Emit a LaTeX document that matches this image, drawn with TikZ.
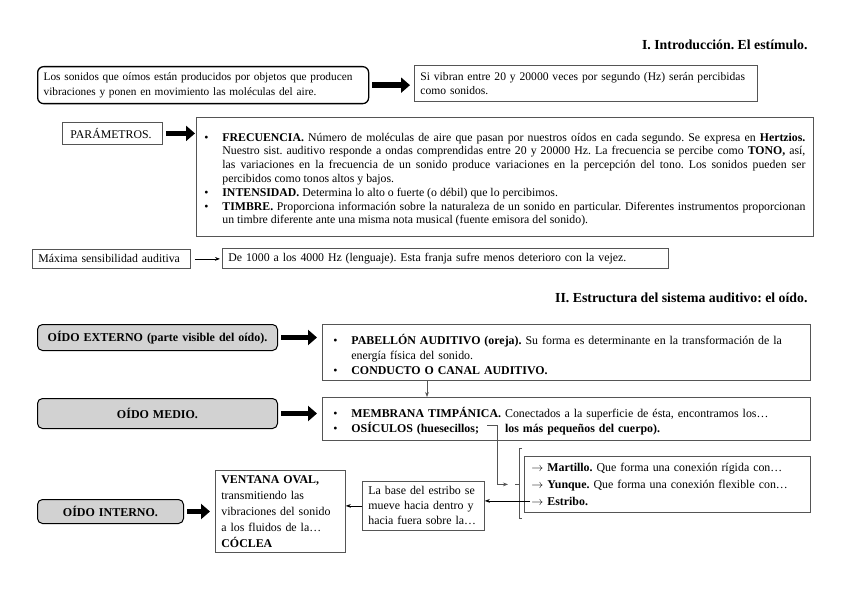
\documentclass[tikz,border=0pt]{standalone}
\usepackage{fontspec}
\setmainfont{Liberation Serif}
\usepackage{tikz}
\usetikzlibrary{arrows.meta, positioning, calc}
\definecolor{linegray}{HTML}{555555}
\definecolor{earfill}{HTML}{D2D2D2}
\frenchspacing
\newcommand{\itm}{\par\noindent\hangindent=18pt\hangafter=1\makebox[18pt][l]{\textbullet}}
\newcommand{\fs}[2]{\fontsize{#1}{#2}\selectfont}

\begin{document}
\begin{tikzpicture}[x=1pt, y=-1pt,
  box/.style={rectangle, draw=linegray, line width=0.8pt, anchor=north west,
              inner xsep=6pt, inner ysep=2pt, align=left, font=\fs{11.8}{14}},
  roundbox/.style={box, rounded corners=6pt, draw=black, line width=1.3pt},
  earbox/.style={box, rounded corners=5pt, draw=black, line width=1pt,
                 fill=earfill, align=center, font=\fs{12}{13}\bfseries},
  bigarrow/.style={-{Triangle[length=9pt,width=15pt]}, line width=5.5pt,
                   shorten <=3pt, shorten >=4pt},
  thinarrow/.style={-{Stealth[length=5pt]}, line width=0.7pt},
  title/.style={anchor=base east, font=\fs{13.8}{16}\bfseries},
]
  \useasboundingbox (0,0) rectangle (848,599);

  \node[title] (tintro) at (811,50) {I. Introducción. El estímulo.};
  \node[roundbox, text width=319pt, minimum height=37pt, font=\fs{11.3}{14.5}] (src) at (37,66)
    {Los sonidos que oímos están producidos por objetos que producen\\
     vibraciones y ponen en movimiento las moléculas del aire.};
  \node[box, text width=331pt, minimum height=36pt, font=\fs{11.6}{14}] (vib) at (414,65)
    {Si vibran entre 20 y 20000 veces por segundo (Hz) serán percibidas\\
     como sonidos.};
  \node[box, inner xsep=8pt, text width=84pt, minimum height=22pt] (par) at (62,122)
    {PARÁMETROS.};
  \node[box, inner xsep=8pt, text width=601pt, minimum height=119pt, align=justify,
        font=\fs{11.8}{13.8}] (freq) at (196,117)
    {\itm\textbf{FRECUENCIA.} Número de moléculas de aire que pasan por nuestros oídos en cada segundo. Se expresa en \textbf{Hertzios.}\linebreak
     Nuestro sist. auditivo responde a ondas comprendidas entre 20 y 20000 Hz. La frecuencia se percibe como \textbf{TONO,} así,\linebreak
     las variaciones en la frecuencia de un sonido produce variaciones en la percepción del tono. Los sonidos pueden ser\linebreak
     percibidos como tonos altos y bajos.
     \itm\textbf{INTENSIDAD.} Determina lo alto o fuerte (o débil) que lo percibimos.
     \itm\textbf{TIMBRE.} Proporciona información sobre la naturaleza de un sonido en particular. Diferentes instrumentos proporcionan\linebreak
     un timbre diferente ante una misma nota musical (fuente emisora del sonido).\par};
  \node[box, text width=146pt, minimum height=19pt, inner ysep=1pt] (max) at (32,249)
    {Máxima sensibilidad auditiva};
  \node[box, text width=434pt, minimum height=20pt, inner ysep=1pt] (dem) at (222,248)
    {De 1000 a los 4000 Hz (lenguaje). Esta franja sufre menos deterioro con la vejez.};

  \node[title] (testr) at (811,302) {II. Estructura del sistema auditivo: el oído.};
  \node[earbox, text width=228pt, minimum height=26pt] (ext) at (37,324)
    {OÍDO EXTERNO (parte visible del oído).};
  \node[box, inner xsep=11pt, text width=466pt, minimum height=56pt,
        font=\fs{11.9}{15}] (pab) at (322,324)
    {\itm\textbf{PABELLÓN AUDITIVO (oreja).} Su forma es determinante en la transformación de la\linebreak
     energía física del sonido.
     \itm\textbf{CONDUCTO O CANAL AUDITIVO.}\par};
  \node[earbox, text width=228pt, minimum height=30pt] (med) at (37,398)
    {OÍDO MEDIO.};
  \node[box, inner xsep=11pt, text width=466pt, minimum height=43pt,
        font=\fs{11.9}{15}] (mem) at (322,397)
    {\itm\textbf{MEMBRANA TIMPÁNICA.} Conectados a la superficie de ésta, encontramos los\ldots
     \itm\textbf{OSÍCULOS (huesecillos;\hspace{26pt}los más pequeños del cuerpo).}\par};
  \node[box, inner xsep=7pt, text width=272pt, minimum height=56pt,
        font=\fs{11.9}{17}] (mar) at (524,456)
    {$\rightarrow$ \textbf{Martillo.} Que forma una conexión rígida con\ldots\\
     $\rightarrow$ \textbf{Yunque.} Que forma una conexión flexible con\ldots\\
     $\rightarrow$ \textbf{Estribo.}};
  \node[box, text width=110pt, minimum height=49pt, font=\fs{11.9}{15}] (base) at (362,481)
    {La base del estribo se\\ mueve hacia dentro y\\ hacia fuera sobre la\ldots};
  \node[box, text width=118pt, minimum height=82pt, font=\fs{11.9}{16}] (ven) at (215,470)
    {\textbf{VENTANA OVAL,}\\ transmitiendo las\\ vibraciones del sonido\\
     a los fluidos de la\ldots\\ \textbf{CÓCLEA}};
  \node[earbox, text width=134pt, minimum height=24pt] (int) at (37,499)
    {OÍDO INTERNO.};

  \coordinate (hue) at (487,425);
  \coordinate (brk) at ($(mar.west)+(-16,0)$);

  \draw[bigarrow] (src.east) -- (src.east -| vib.west);
  \draw[bigarrow, shorten >=1pt] (par.east) -- (par.east -| freq.west);
  \draw[thinarrow, shorten <=4pt, shorten >=2pt] (max.east) -- (max.east -| dem.west);
  \draw[bigarrow, shorten >=5pt] (ext.east) -- (ext.east -| pab.west);
  \draw[bigarrow, shorten >=5pt] (med.east) -- (med.east -| mem.west);
  \draw[bigarrow, shorten >=5pt] (int.east) -- (int.east -| ven.west);
  \draw[thinarrow, linegray] ([xshift=105pt]pab.south west) -- ([xshift=105pt]mem.north west);
  \draw[thinarrow, linegray] (hue) -- ++(10,0) |- (brk);
  \draw[linegray, line width=0.7pt] ($(mar.north west)+(-2,-8)$) -- ++(-3,0)
    -- ($(mar.south west)+(-5,6)$) -- ++(3,0);
  \draw[linegray, line width=0.7pt] ($(mar.west)+(-9,0)$) -- ++(4,0);
  \draw[thinarrow] ($(mar.west |- base.east)+(6,-5)$) -- ([yshift=5pt]base.east);
  \draw[thinarrow] (base.west) -- (base.west -| ven.east);
\end{tikzpicture}
\end{document}
